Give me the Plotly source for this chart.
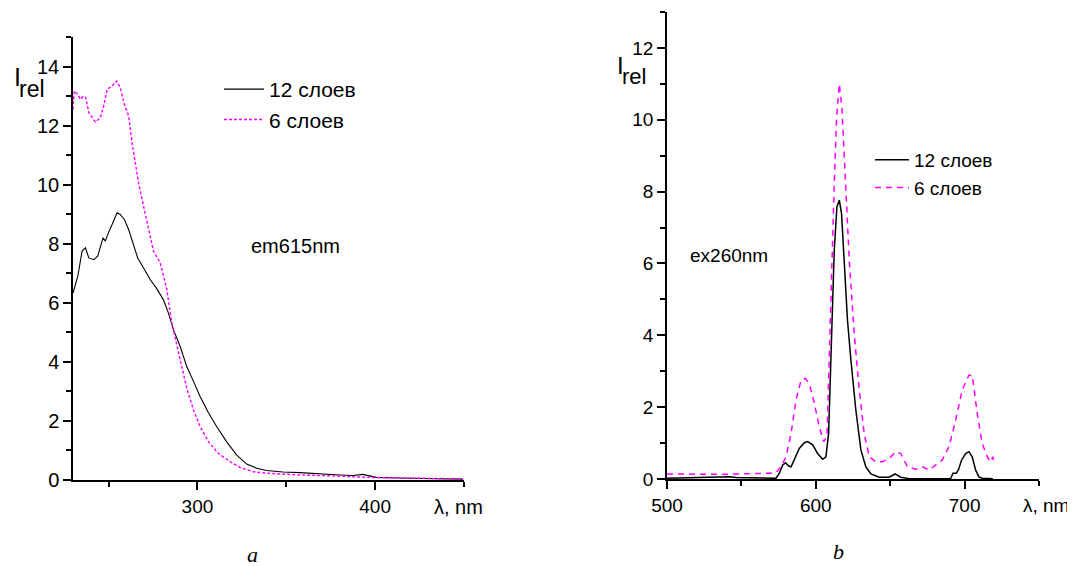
import plotly.graph_objects as go

# ---- Panel a: excitation spectra (em 615 nm) ----
a12_x = [230, 232.7, 235.1, 237, 238.9, 241.7, 243.9, 245.4, 246.9, 248.2, 249.5, 252, 254.8, 256.6,
         258.9, 261.3, 264.1, 266.4, 269.7, 273.5, 277.2, 280.9, 283.7, 286.5, 290.3, 294, 297.8,
         301.5, 306.2, 310.8, 316.4, 322, 327.7, 333.3, 338.9, 348.2, 357.6, 363.2, 368.8, 380,
         387.5, 393.1, 396.8, 400.6, 413.6, 432.3, 449.5]
a12_y = [6.33, 6.9, 7.75, 7.86, 7.52, 7.46, 7.58, 7.92, 8.2, 8.09, 8.31, 8.65, 9.05, 8.99,
         8.82, 8.48, 7.92, 7.52, 7.18, 6.78, 6.47, 6.1, 5.65, 5.09, 4.52, 3.84, 3.34,
         2.83, 2.28, 1.81, 1.30, 0.85, 0.54, 0.40, 0.32, 0.27, 0.25, 0.23, 0.19, 0.17,
         0.15, 0.19, 0.14, 0.09, 0.07, 0.05, 0.03]
a6_x = [230, 230.7, 232.7, 234.2, 235.7, 237.2, 238.9, 242.6, 245.4, 247.3, 249.2, 252, 254.4, 256.6,
        258.9, 261.3, 263.2, 265, 266.9, 269.7, 272.5, 275.3, 279.1, 282.8, 285.6, 288.4, 291.2,
        294, 297.8, 301.5, 306.2, 311.8, 318.3, 323.9, 331.4, 338.9, 357.6, 376.3, 395, 413.6, 449.5]
a6_y = [12.55, 13.17, 13.06, 12.89, 13.0, 12.95, 12.44, 12.12, 12.27, 12.67, 13.23, 13.34, 13.51, 13.29,
        12.72, 12.33, 11.42, 10.74, 10.06, 9.27, 8.48, 7.75, 7.35, 6.45, 5.31, 4.52, 3.84,
        3.11, 2.37, 1.81, 1.30, 0.90, 0.62, 0.43, 0.28, 0.23, 0.17, 0.14, 0.09, 0.07, 0.03]

# ---- Panel b: emission spectra (ex 260 nm) ----
b12_x = [500, 537.5, 542, 546.5, 573.3, 575.5, 577.8, 579.6, 581.8, 583.4, 585.6, 588.9, 592.3, 594.5,
         597.9, 601.2, 604.6, 606.8, 608.6, 610.6, 612.4, 614.2, 615.8, 617.3, 619.1, 621.3, 623.6,
         626.9, 630.3, 633.6, 637, 642.6, 649.3, 653.3, 657.1, 662.7, 690.6, 692.2, 694.4, 695.8,
         698, 700.7, 702.9, 705.1, 707.4, 709.6, 711.8, 719]
b12_y = [0.02, 0.04, 0.06, 0.04, 0.02, 0.16, 0.39, 0.45, 0.36, 0.34, 0.53, 0.85, 1.01, 1.04,
         0.95, 0.71, 0.55, 0.62, 1.27, 4.05, 6.37, 7.58, 7.76, 7.39, 5.91, 4.42, 3.31,
         1.92, 0.81, 0.34, 0.14, 0.05, 0.05, 0.14, 0.05, 0.01, 0.01, 0.16, 0.16, 0.25,
         0.53, 0.71, 0.76, 0.62, 0.25, 0.06, 0.02, 0.01]
b6_x = [500, 537.5, 568.8, 573.3, 576.6, 580, 583.4, 586.7, 590.1, 593, 595.6, 599, 602.3, 605.3,
        607.5, 609, 610.8, 612.4, 614, 615.8, 617.5, 619.8, 622.5, 625.8, 629.2, 632.5, 635.9,
        640.3, 644.8, 649.3, 653.7, 657.1, 661.6, 667.2, 671.6, 676.1, 680.6, 685, 689.5, 694,
        698.4, 702.9, 705.1, 708.5, 711.8, 715.2, 717.4, 719, 719.7]
b6_y = [0.14, 0.13, 0.16, 0.18, 0.34, 0.62, 1.27, 2.2, 2.75, 2.8, 2.66, 2.11, 1.46, 1.04,
        1.18, 3.13, 5.91, 8.23, 10.08, 11.0, 10.36, 8.41, 6.09, 4.05, 2.48, 1.27, 0.62,
        0.48, 0.48, 0.57, 0.76, 0.71, 0.34, 0.27, 0.34, 0.25, 0.39, 0.53, 0.90, 1.64,
        2.48, 2.89, 2.89, 1.83, 0.99, 0.62, 0.48, 0.62, 0.44]

names = ["12 слоев", "6 слоев"]
MAG = "#FF00FF"
OFF = 8                      # the page body adds an 8px margin around the plot div
W, H = 1075 - OFF, 566 - OFF

fig = go.Figure()
fig.add_trace(go.Scatter(x=a12_x, y=a12_y, mode="lines", name=names[0], legend="legend",
                         legendgroup="a1", line=dict(color="black", width=1.1), xaxis="x", yaxis="y"))
fig.add_trace(go.Scatter(x=a6_x, y=a6_y, mode="lines", name=names[1], legend="legend",
                         legendgroup="a2", line=dict(color=MAG, width=1.4, dash="3px,2px"), xaxis="x", yaxis="y"))
fig.add_trace(go.Scatter(x=b12_x, y=b12_y, mode="lines", name=names[0], legend="legend2",
                         legendgroup="b1", line=dict(color="black", width=1.5), xaxis="x2", yaxis="y2"))
fig.add_trace(go.Scatter(x=b6_x, y=b6_y, mode="lines", name=names[1], legend="legend2",
                         legendgroup="b2", line=dict(color=MAG, width=1.5, dash="6px,5px"), xaxis="x2", yaxis="y2"))

FONT = "Liberation Sans, Arial, sans-serif"

def px_x(p):
    return (p - OFF) / W

def px_y(p):
    return 1 - (p - OFF) / H

axis_common = dict(showline=True, linecolor="black", linewidth=1.5, ticks="outside", ticklen=8,
                   tickwidth=1.5, tickcolor="black", showgrid=False, zeroline=False,
                   mirror=False, automargin=False, ticklabelstandoff=0)

minor_common = dict(ticklen=5, tickwidth=1.5, tickcolor="black", ticks="outside")

fig.update_layout(
    template="none",
    width=W, height=H, margin=dict(l=0, r=0, t=0, b=0, pad=0, autoexpand=False),
    paper_bgcolor="white", plot_bgcolor="white",
    font=dict(family=FONT, color="black", size=19),
    xaxis=dict(domain=[px_x(73), px_x(464)], range=[230, 450], dtick=100, tick0=0,
               minor=dict(dtick=50, **minor_common),
               tickfont=dict(size=19), anchor="y", **axis_common),
    yaxis=dict(domain=[px_y(480), px_y(37)], range=[0, 15], dtick=2, tick0=0,
               minor=dict(dtick=1, **minor_common),
               tickfont=dict(size=20), anchor="x", **axis_common),
    xaxis2=dict(domain=[px_x(667), px_x(1039)], range=[500, 750], dtick=100, tick0=0,
                minor=dict(dtick=50, **minor_common),
                tickfont=dict(size=19), anchor="y2", **axis_common),
    yaxis2=dict(domain=[px_y(479), px_y(12)], range=[0, 13], dtick=2, tick0=0,
                minor=dict(dtick=1, **minor_common),
                tickfont=dict(size=19), anchor="x2", **axis_common),
    legend=dict(x=px_x(219), y=px_y(69), xanchor="left", yanchor="top",
                font=dict(size=21, family=FONT), bgcolor="rgba(0,0,0,0)", tracegroupgap=0,
                itemwidth=40),
    legend2=dict(x=px_x(870), y=px_y(141), xanchor="left", yanchor="top",
                 font=dict(size=19, family=FONT), bgcolor="rgba(0,0,0,0)", tracegroupgap=0,
                 itemwidth=34),
    showlegend=True,
)

ann = [
    dict(text="I", x=px_x(12), y=px_y(93), xanchor="left", yanchor="bottom", font=dict(size=25)),
    dict(text="rel", x=px_x(17), y=px_y(104), xanchor="left", yanchor="bottom", font=dict(size=23)),
    dict(text="em615nm", x=px_x(295), y=px_y(246), xanchor="center", yanchor="middle", font=dict(size=20)),
    dict(text="λ, nm", x=px_x(458), y=px_y(507), xanchor="center", yanchor="middle", font=dict(size=20)),
    dict(text="<i>a</i>", x=px_x(252), y=px_y(554), xanchor="center", yanchor="middle",
         font=dict(size=22, family="Liberation Serif, Times New Roman, serif")),
    dict(text="I", x=px_x(615), y=px_y(81), xanchor="left", yanchor="bottom", font=dict(size=24)),
    dict(text="rel", x=px_x(620), y=px_y(91), xanchor="left", yanchor="bottom", font=dict(size=22)),
    dict(text="ex260nm", x=px_x(729), y=px_y(255), xanchor="center", yanchor="middle", font=dict(size=19)),
    dict(text="λ, nm", x=px_x(1046), y=px_y(505), xanchor="center", yanchor="middle", font=dict(size=19)),
    dict(text="<i>b</i>", x=px_x(838), y=px_y(551), xanchor="center", yanchor="middle",
         font=dict(size=22, family="Liberation Serif, Times New Roman, serif")),
]
for a in ann:
    a.update(xref="paper", yref="paper", showarrow=False)
fig.update_layout(annotations=ann)

fig.write_html("out.html")
